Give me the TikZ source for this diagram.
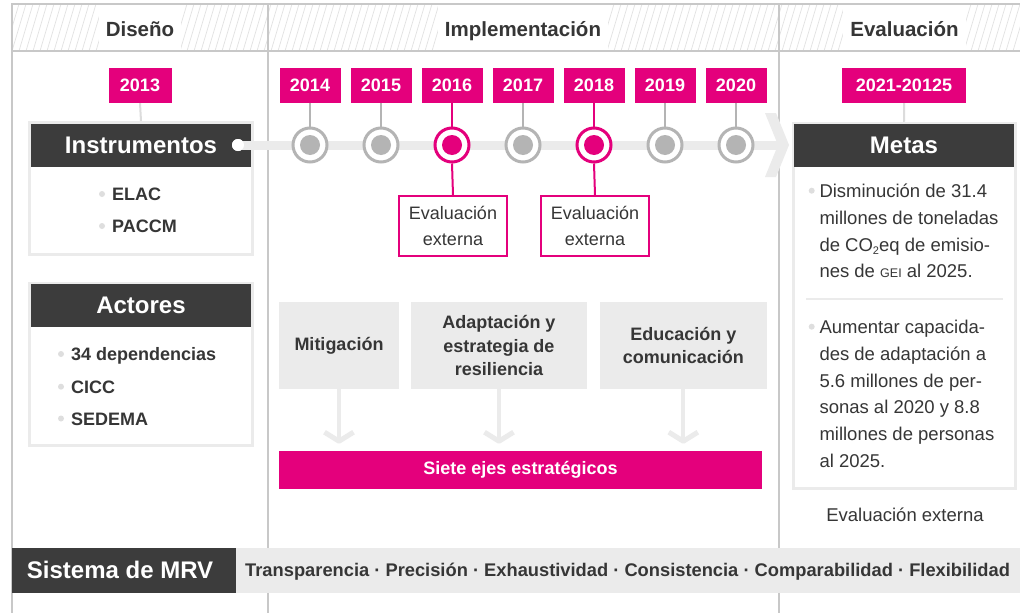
\documentclass[tikz,border=0pt]{standalone}
\usepackage{fontspec}
\setmainfont{Liberation Sans}
\definecolor{mag}{HTML}{E4007C}
\definecolor{dk}{HTML}{3C3C3C}
\definecolor{txt}{HTML}{363636}
\definecolor{lg}{HTML}{EBEBEB}
\definecolor{ln}{HTML}{C8C8C8}
\definecolor{rg}{HTML}{B4B4B4}
\definecolor{hatchc}{HTML}{E2E2E2}
\definecolor{bulc}{HTML}{DEDEDE}
\definecolor{conn}{HTML}{DCDCDC}
\begin{document}
\begin{tikzpicture}[x=1pt,y=-1pt,
  frameline/.style={draw=ln, line width=1.3pt},
  hatchline/.style={draw=hatchc, line width=0.7pt},
  hdr/.style={fill=white, text=txt, font=\fontsize{20.5}{24}\selectfont\bfseries, inner xsep=7pt, inner ysep=0pt, text height=31.5pt, text depth=15pt, anchor=base},
  yearbox/.style={fill=mag, text=white, font=\fontsize{18}{20}\selectfont\bfseries, minimum height=35pt, minimum width=61pt, inner sep=0pt},
  card/.style={draw=lg, line width=3pt, fill=white, inner sep=0pt},
  cardhead/.style={fill=dk, text=white, font=\fontsize{24}{28}\selectfont\bfseries, minimum width=220pt, minimum height=42.7pt, inner sep=0pt},
  itemtext/.style={text=txt, font=\fontsize{18}{20}\selectfont\bfseries, anchor=base west, inner sep=0pt},
  bullet/.style={circle, fill=bulc, inner sep=0pt, minimum size=6pt},
  ring/.style={circle, draw=rg, line width=3pt, fill=white, minimum size=34pt, inner sep=0pt},
  magring/.style={ring, draw=mag},
  yconn/.style={draw=rg, line width=2pt},
  magconn/.style={draw=mag, line width=2pt},
  evalbox/.style={draw=mag, line width=2pt, fill=white, text=txt, font=\fontsize{18}{26.7}\selectfont, align=center, minimum width=108pt, minimum height=60pt, inner sep=0pt},
  graybox/.style={fill=lg, text=txt, font=\fontsize{18}{23.5}\selectfont\bfseries, align=center, minimum height=87pt, inner sep=0pt},
  downarrow/.style={draw=lg, line width=4pt},
  chev/.style={draw=lg, line width=5pt, line join=bevel},
  metatext/.style={text=txt, font=\fontsize{18.5}{26.8}\selectfont, align=left, anchor=north west, inner sep=0pt}
]
\useasboundingbox (0,0) rectangle (1020,613);
\fill[white] (0,0) rectangle (1020,613);

% header hatching
\begin{scope}
  \clip (12,4) rectangle (1020,51);
  \foreach \k in {0,...,150} {
    \draw[hatchline] ({12+7*\k-14},51) -- ++(14,-47);
  }
\end{scope}
\node[hdr] (hdis) at (140,36) {Diseño};
\node[hdr] (himp) at (523,36) {Implementación};
\node[hdr] (heva) at (904.5,36) {Evaluación};

% frame lines
\draw[frameline] (12,613) -- (12,4) -- (1020,4);
\draw[frameline] (12,51) -- (1020,51);
\draw[frameline] (268,4) -- (268,613);
\draw[frameline] (779,4) -- (779,613);

% years
\node[yearbox, minimum width=63pt] (y2013) at (140,85.5) {2013};
\foreach \yr [count=\i from 0] in {2014,2015,2016,2017,2018,2019,2020} {
  \node[yearbox] (y\yr) at ({310+71*\i},85.5) {\yr};
}
\node[yearbox, minimum width=124pt] (y2021) at (904,85.5) {2021-20125};

% cards
\node[card, minimum width=223pt, minimum height=132pt] (instrcard) at (141,188.5) {};
\node[cardhead] (instr) at (141,145.3) {Instrumentos};
\node[card, minimum width=223pt, minimum height=162.3pt] (actcard) at (141,364.3) {};
\node[cardhead] (act) at (141,305.3) {Actores};
\node[card, minimum width=222pt, minimum height=365.3pt] (metacard) at (904.2,305.9) {};
\node[cardhead] (metas) at (904,145.3) {Metas};

\draw[draw=conn, line width=2pt] (y2013.south) -- (instrcard.north);
\draw[draw=conn, line width=2pt] (y2021.south) -- (metacard.north);

% timeline
\coordinate (tip) at (782,145);
\node[circle, fill=white, minimum size=12pt, inner sep=0pt] (dot) at (238,145) {};
\draw[draw=lg, line width=9pt] (dot.center) -- (tip);
\fill[lg] (765,113) -- (776,113) -- (789,145) -- (776,177) -- (765,177) -- (778,145) -- cycle;
\node[circle, fill=white, minimum size=12pt, inner sep=0pt] at (dot) {};

\foreach \yr/\px in {2014/310,2015/381,2017/523,2019/665,2020/736} {
  \node[ring] (c\yr) at (\px,145) {};
  \fill[rg] (c\yr.center) circle (10pt);
  \draw[yconn] (y\yr.south) -- (c\yr.north);
}
\foreach \yr/\px in {2016/452,2018/594} {
  \node[magring] (c\yr) at (\px,145) {};
  \fill[mag] (c\yr.center) circle (10pt);
  \draw[magconn] (y\yr.south) -- (c\yr.north);
}

% evaluation boxes
\node[evalbox] (ev1) at (453,226) {Evaluación\\externa};
\node[evalbox] (ev2) at (595,226) {Evaluación\\externa};
\draw[magconn] (c2016.south) -- (ev1.north);
\draw[magconn] (c2018.south) -- (ev2.north);

% items
\node[bullet] (b1) at (102,194) {};
\node[itemtext] (elac) at (112,200.5) {ELAC};
\node[bullet] (b2) at (102,226) {};
\node[itemtext] (paccm) at (112,232.5) {PACCM};
\node[bullet] (b3) at (61,354) {};
\node[itemtext] (dep) at (71,360.5) {34 dependencias};
\node[bullet] (b4) at (61,386.7) {};
\node[itemtext] (cicc) at (71,393.2) {CICC};
\node[bullet] (b5) at (61,418.5) {};
\node[itemtext] (sed) at (71,425) {SEDEMA};

% strategic boxes
\node[graybox, minimum width=120pt] (mit) at (339,345.5) {Mitigación};
\node[graybox, minimum width=176pt] (ada) at (499,345.5) {Adaptación y\\estrategia de\\resiliencia};
\node[graybox, minimum width=167pt] (edu) at (683.3,345.5) {Educación y\\comunicación};
\node[fill=mag, text=white, font=\fontsize{18}{20}\selectfont\bfseries, minimum width=483pt, minimum height=38.3pt, inner sep=0pt] (siete) at (520.5,470) {Siete ejes estratégicos};
\foreach \b in {mit,ada,edu} {
  \coordinate (\b end) at ([yshift=-51pt]\b.south);
  \draw[downarrow] (\b.south) -- (\b end);
  \draw[chev] ([xshift=-14.5pt,yshift=8pt]\b end) -- ([yshift=-1pt]\b end) -- ([xshift=14.5pt,yshift=8pt]\b end);
}

% metas text
\node[bullet] (mb1) at (811.7,190.7) {};
\node[metatext] (m1) at (819.3,182.3) {\rule{0pt}{15pt}Disminución de 31.4\\millones de toneladas\\de CO\raisebox{-3.5pt}{\fontsize{11}{11}\selectfont 2}eq de emisio-\\nes de {\fontsize{12.5}{12.5}\selectfont GEI} al 2025.};
\draw[draw=lg, line width=2pt] (806,299) -- (1003,299);
\node[bullet] (mb2) at (811.7,326.7) {};
\node[metatext] (m2) at (819.3,318.3) {\rule{0pt}{15pt}Aumentar capacida-\\des de adaptación a\\5.6 millones de per-\\sonas al 2020 y 8.8\\millones de personas\\al 2025.};
\node[text=txt, font=\fontsize{18.5}{20}\selectfont, inner sep=0pt] (evext) at (905,515) {Evaluación externa};

% MRV bar
\node[fill=lg, minimum width=784.3pt, minimum height=45pt, inner sep=0pt, anchor=west] (mrvbar) at (235.7,570.2) {};
\node[fill=dk, text=white, font=\fontsize{24}{28}\selectfont\bfseries, minimum width=223.7pt, minimum height=45pt, inner sep=0pt, anchor=west] (mrv) at (12,570.2) {Sistema de MRV\hspace*{8pt}};
\node[text=txt, font=\fontsize{18.3}{20}\selectfont\bfseries, anchor=west, inner sep=0pt] (mrvtext) at (245,572) {Transparencia · Precisión · Exhaustividad · Consistencia · Comparabilidad · Flexibilidad};
\end{tikzpicture}
\end{document}
